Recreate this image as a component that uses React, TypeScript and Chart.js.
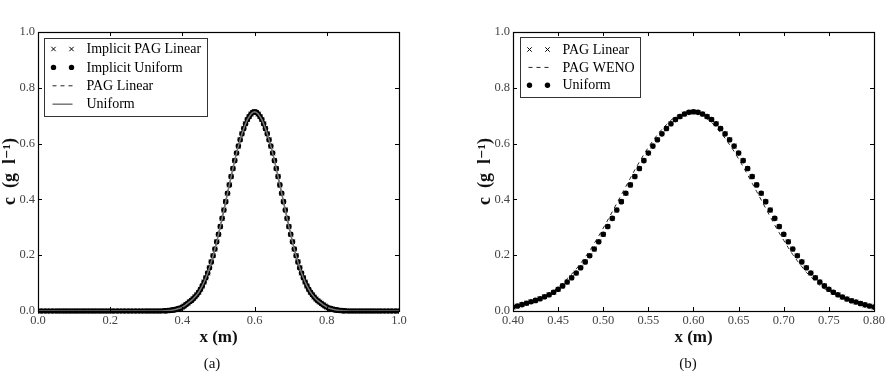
import React, { useEffect, useRef } from 'react';
import { Chart, registerables } from 'chart.js';

Chart.register(...registerables);

// ---------- data ----------
const xLeftTail = [
  0.00, 0.01, 0.02, 0.03, 0.04, 0.05, 0.06, 0.07, 0.08, 0.09,
  0.10, 0.11, 0.12, 0.13, 0.14, 0.15, 0.16, 0.17, 0.18, 0.19,
  0.20, 0.21, 0.22, 0.23, 0.24, 0.25, 0.26, 0.27, 0.28, 0.29,
  0.30, 0.31, 0.32, 0.33, 0.34,
];
const cLeftTail = [
  0, 0, 0, 0, 0, 0, 0, 0, 0, 0,
  0, 0, 0, 0, 0, 0, 0, 0, 0, 0,
  0, 0, 0, 0, 0, 0, 0, 0, 0, 0,
  0, 0, 0, 0, 0,
];
const xRightTail = [0.86, 0.87, 0.88, 0.89, 0.90, 0.91, 0.92, 0.93, 0.94, 0.95, 0.96, 0.97, 0.98, 0.99, 1.00];
const cRightTail = [0, 0, 0, 0, 0, 0, 0, 0, 0, 0, 0, 0, 0, 0, 0];

const xCore = [
  0.350, 0.355, 0.360, 0.365, 0.370, 0.375, 0.380, 0.385, 0.390, 0.395,
  0.400, 0.405, 0.410, 0.415, 0.420, 0.425, 0.430, 0.435, 0.440, 0.445,
  0.450, 0.455, 0.460, 0.465, 0.470, 0.475, 0.480, 0.485, 0.490, 0.495,
  0.500, 0.505, 0.510, 0.515, 0.520, 0.525, 0.530, 0.535, 0.540, 0.545,
  0.550, 0.555, 0.560, 0.565, 0.570, 0.575, 0.580, 0.585, 0.590, 0.595,
  0.600, 0.605, 0.610, 0.615, 0.620, 0.625, 0.630, 0.635, 0.640, 0.645,
  0.650, 0.655, 0.660, 0.665, 0.670, 0.675, 0.680, 0.685, 0.690, 0.695,
  0.700, 0.705, 0.710, 0.715, 0.720, 0.725, 0.730, 0.735, 0.740, 0.745,
  0.750, 0.755, 0.760, 0.765, 0.770, 0.775, 0.780, 0.785, 0.790, 0.795,
  0.800, 0.805, 0.810, 0.815, 0.820, 0.825, 0.830, 0.835, 0.840, 0.845,
  0.850,
];

const uniformCore = [
  0.001, 0.001, 0.002, 0.002, 0.003, 0.004, 0.005, 0.007, 0.009, 0.011,
  0.014, 0.018, 0.023, 0.028, 0.033, 0.038, 0.044, 0.051, 0.058, 0.067,
  0.078, 0.090, 0.104, 0.119, 0.136, 0.155, 0.176, 0.198, 0.222, 0.248,
  0.275, 0.303, 0.332, 0.362, 0.392, 0.422, 0.452, 0.482, 0.511, 0.539,
  0.566, 0.591, 0.614, 0.635, 0.654, 0.671, 0.686, 0.697, 0.706, 0.712,
  0.714, 0.712, 0.706, 0.697, 0.686, 0.671, 0.654, 0.635, 0.614, 0.591,
  0.566, 0.539, 0.511, 0.482, 0.452, 0.422, 0.392, 0.362, 0.332, 0.303,
  0.275, 0.248, 0.222, 0.198, 0.176, 0.155, 0.136, 0.119, 0.104, 0.090,
  0.078, 0.067, 0.058, 0.050, 0.043, 0.037, 0.032, 0.027, 0.022, 0.018,
  0.014, 0.011, 0.009, 0.007, 0.005, 0.004, 0.003, 0.002, 0.002, 0.001,
  0.001,
];

const pagWenoCore = [
  0.001, 0.001, 0.002, 0.002, 0.003, 0.004, 0.006, 0.008, 0.010, 0.013,
  0.015, 0.019, 0.024, 0.029, 0.034, 0.040, 0.046, 0.053, 0.061, 0.071,
  0.085, 0.099, 0.116, 0.132, 0.150, 0.171, 0.193, 0.216, 0.242, 0.269,
  0.297, 0.326, 0.356, 0.386, 0.416, 0.446, 0.476, 0.506, 0.534, 0.561,
  0.587, 0.610, 0.632, 0.651, 0.668, 0.684, 0.696, 0.705, 0.712, 0.715,
  0.714, 0.709, 0.700, 0.689, 0.676, 0.658, 0.640, 0.619, 0.596, 0.572,
  0.545, 0.517, 0.488, 0.458, 0.428, 0.398, 0.368, 0.338, 0.308, 0.280,
  0.253, 0.227, 0.202, 0.180, 0.159, 0.139, 0.122, 0.106, 0.092, 0.080,
  0.072, 0.062, 0.054, 0.047, 0.041, 0.035, 0.031, 0.026, 0.022, 0.017,
  0.013, 0.010, 0.008, 0.006, 0.005, 0.004, 0.003, 0.002, 0.002, 0.001,
  0.001,
];

// the linear-reconstruction runs are indistinguishable from the uniform run in the picture
const pagLinearCore = uniformCore;
const implicitPagLinearCore = uniformCore;
const implicitUniformCore = uniformCore;

const xTicksA = [0.0, 0.2, 0.4, 0.6, 0.8, 1.0];
const xTicksB = [0.40, 0.45, 0.50, 0.55, 0.60, 0.65, 0.70, 0.75, 0.80];
const yTicks = [0.0, 0.2, 0.4, 0.6, 0.8, 1.0];

const labelsA = ['Implicit PAG Linear', 'Implicit Uniform', 'PAG Linear', 'Uniform'];
const labelsB = ['PAG Linear', 'PAG WENO', 'Uniform'];

// ---------- helpers ----------
const SERIF = '"Liberation Serif", "DejaVu Serif", serif';

function pts(xs: number[], ys: number[]) {
  return xs.map((x, i) => ({ x, y: ys[i] }));
}
function fullRange(core: number[]) {
  return [...pts(xLeftTail, cLeftTail), ...pts(xCore, core), ...pts(xRightTail, cRightTail)];
}

const CLIP = { left: 0, top: 4, right: 0, bottom: 4 };

function dotsDs(label: string, data: any[], order: number) {
  return {
    label, data, order, showLine: false, pointStyle: 'circle', pointRadius: 2.8,
    pointBackgroundColor: '#000', pointBorderColor: '#000', pointBorderWidth: 0, clip: CLIP,
  };
}
function crossDs(label: string, data: any[], order: number) {
  return {
    label, data, order, showLine: false, pointStyle: 'crossRot', pointRadius: 3.2,
    pointBorderColor: '#000', pointBackgroundColor: '#000', pointBorderWidth: 1, clip: CLIP,
  };
}
function lineDs(label: string, data: any[], order: number, dash: number[], color: string, width: number) {
  return {
    label, data, order, showLine: true, pointRadius: 0, borderColor: color, borderWidth: width,
    borderDash: dash, backgroundColor: color, fill: false, tension: 0, clip: CLIP,
  };
}

const frameTicksPlugin = {
  id: 'frameTicks',
  afterDatasetsDraw(chart: any) {
    const { ctx, chartArea: a, scales } = chart;
    const L = 4;
    ctx.save();
    ctx.strokeStyle = '#000';
    ctx.lineWidth = 1;
    ctx.beginPath();
    scales.x.ticks.forEach((t: any) => {
      const px = Math.round(scales.x.getPixelForValue(t.value)) + 0.5;
      ctx.moveTo(px, a.bottom); ctx.lineTo(px, a.bottom - L);
      ctx.moveTo(px, a.top); ctx.lineTo(px, a.top + L);
    });
    scales.y.ticks.forEach((t: any) => {
      const py = Math.round(scales.y.getPixelForValue(t.value)) + 0.5;
      ctx.moveTo(a.left, py); ctx.lineTo(a.left + L, py);
      ctx.moveTo(a.right, py); ctx.lineTo(a.right - L, py);
    });
    ctx.stroke();
    ctx.lineWidth = 1.2;
    ctx.strokeRect(Math.round(a.left) + 0.5, Math.round(a.top) + 0.5, Math.round(a.width), Math.round(a.height));
    ctx.restore();
  },
};

const legendBoxPlugin = {
  id: 'legendBox',
  afterDraw(chart: any) {
    const o = chart.options.plugins.legendBox;
    if (!o) return;
    const { ctx, chartArea: a } = chart;
    const dss = chart.data.datasets;
    ctx.save();
    ctx.font = `14px ${SERIF}`;
    const maxW = Math.max(...dss.map((d: any) => ctx.measureText(d.label).width));
    const x0 = Math.round(a.left + o.dx) + 0.5;
    const y0 = Math.round(a.top + o.dy) + 0.5;
    const w = Math.round(42 + maxW + 6);
    const h = Math.round(o.first + o.rowH * (dss.length - 1) + o.last);
    ctx.fillStyle = '#fff';
    ctx.fillRect(x0, y0, w, h);
    ctx.strokeStyle = '#333';
    ctx.lineWidth = 1;
    ctx.strokeRect(x0, y0, w, h);
    dss.forEach((d: any, i: number) => {
      const cy = y0 + o.first + i * o.rowH;
      const xa = x0 + 9, xb = x0 + 27;
      if (d.showLine) {
        ctx.save();
        ctx.strokeStyle = d.borderColor;
        ctx.lineWidth = d.borderWidth;
        ctx.setLineDash(d.borderDash || []);
        ctx.beginPath();
        ctx.moveTo(xa - 1, cy); ctx.lineTo(xb + 1, cy);
        ctx.stroke();
        ctx.restore();
      } else if (d.pointStyle === 'circle') {
        ctx.fillStyle = '#000';
        [xa, xb].forEach((px) => { ctx.beginPath(); ctx.arc(px, cy, 2.7, 0, Math.PI * 2); ctx.fill(); });
      } else {
        ctx.strokeStyle = '#000';
        ctx.lineWidth = 1;
        const r = 2.2;
        [xa, xb].forEach((px) => {
          ctx.beginPath();
          ctx.moveTo(px - r, cy - r); ctx.lineTo(px + r, cy + r);
          ctx.moveTo(px - r, cy + r); ctx.lineTo(px + r, cy - r);
          ctx.stroke();
        });
      }
      ctx.fillStyle = '#000';
      ctx.textBaseline = 'middle';
      ctx.textAlign = 'left';
      ctx.fillText(d.label, x0 + 42, cy + 0.5);
    });
    ctx.restore();
  },
};

function makeOptions(xMin: number, xMax: number, xTicks: number[], xDigits: number, pad: any, legend: any) {
  return {
    responsive: false,
    animation: false,
    devicePixelRatio: 1,
    layout: { padding: pad },
    plugins: { legend: { display: false }, tooltip: { enabled: false }, legendBox: legend },
    scales: {
      x: {
        type: 'linear', min: xMin, max: xMax,
        grid: { display: false, drawTicks: false }, border: { display: false },
        afterBuildTicks: (s: any) => { s.ticks = xTicks.map((v) => ({ value: v })); },
        afterFit: (s: any) => { s.height = 63; s.paddingLeft = 0; s.paddingRight = 0; },
        ticks: {
          padding: 2, color: '#444', maxRotation: 0, autoSkip: false,
          font: { family: SERIF, size: 12.5 },
          callback: (v: any) => Number(v).toFixed(xDigits),
        },
        title: {
          display: true, text: 'x (m)', color: '#111',
          font: { family: SERIF, size: 17, weight: 'bold' }, padding: { top: 0, bottom: 26 },
        },
      },
      y: {
        type: 'linear', min: 0, max: 1,
        grid: { display: false, drawTicks: false }, border: { display: false },
        afterBuildTicks: (s: any) => { s.ticks = yTicks.map((v) => ({ value: v })); },
        afterFit: (s: any) => { s.width = 38; s.paddingTop = 0; s.paddingBottom = 0; },
        ticks: {
          padding: 3, color: '#444', autoSkip: false,
          font: { family: SERIF, size: 12.5 },
          callback: (v: any) => Number(v).toFixed(1),
        },
        title: {
          display: true, text: 'c\u2002(g\u2002l⁻¹)', color: '#111',
          font: { family: SERIF, size: 18, weight: 'bold' }, padding: { top: 0, bottom: 0 },
        },
      },
    },
  };
}

function Panel(props: { which: 'a' | 'b'; left: number; width: number }) {
  const ref = useRef<HTMLCanvasElement | null>(null);
  useEffect(() => {
    if (!ref.current) return;
    let cfg: any;
    if (props.which === 'a') {
      cfg = {
        type: 'scatter',
        data: {
          datasets: [
            crossDs(labelsA[0], fullRange(implicitPagLinearCore), 3),
            dotsDs(labelsA[1], fullRange(implicitUniformCore), 2),
            lineDs(labelsA[2], fullRange(pagLinearCore), 1, [4, 4], '#222', 1),
            lineDs(labelsA[3], fullRange(uniformCore), 0, [], '#777', 1.5),
          ],
        },
        options: makeOptions(0, 1, xTicksA, 1, { left: 0, top: 32, right: 46, bottom: 0 },
          { dx: 6, dy: 6, rowH: 18.4, first: 10.5, last: 12.5 }),
        plugins: [frameTicksPlugin, legendBoxPlugin],
      };
    } else {
      cfg = {
        type: 'scatter',
        data: {
          datasets: [
            crossDs(labelsB[0], pts(xCore, pagLinearCore), 2),
            lineDs(labelsB[1], pts(xCore, pagWenoCore), 1, [4, 4], '#222', 1),
            dotsDs(labelsB[2], pts(xCore, uniformCore), 0),
          ],
        },
        options: makeOptions(0.4, 0.8, xTicksB, 2, { left: 30, top: 32, right: 15, bottom: 0 },
          { dx: 7, dy: 5, rowH: 17.9, first: 12, last: 12 }),
        plugins: [frameTicksPlugin, legendBoxPlugin],
      };
    }
    const chart = new Chart(ref.current, cfg);
    return () => chart.destroy();
  }, [props.which]);
  return (
    <canvas
      ref={ref}
      width={props.width}
      height={374}
      style={{ position: 'absolute', left: props.left, top: 0, width: props.width, height: 374 }}
    />
  );
}

const captionStyle: any = {
  position: 'absolute', top: 355, width: 60, textAlign: 'center',
  fontFamily: SERIF, fontSize: 15, lineHeight: '16px', color: '#111',
};

export default function App() {
  return (
    <div style={{ position: 'absolute', left: 0, top: 0, width: 889, height: 374, background: '#fff', overflow: 'hidden' }}>
      <Panel which="a" left={0} width={445} />
      <Panel which="b" left={445} width={444} />
      <div style={{ ...captionStyle, left: 212 - 30 }}>(a)</div>
      <div style={{ ...captionStyle, left: 688 - 30 }}>(b)</div>
    </div>
  );
}
